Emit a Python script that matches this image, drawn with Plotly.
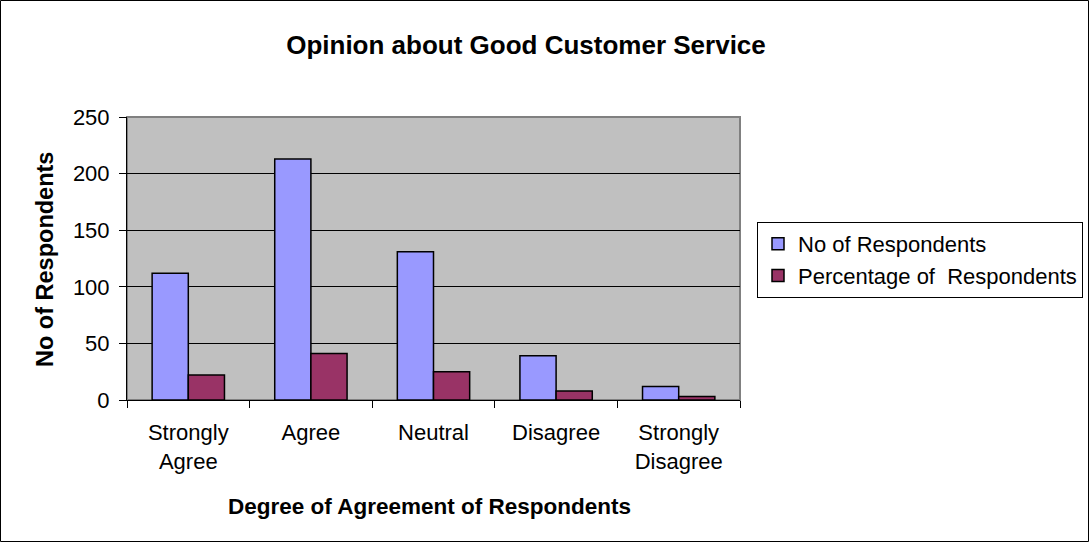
import plotly.graph_objects as go

categories = ["Strongly<br>Agree", "Agree", "Neutral", "Disagree", "Strongly<br>Disagree"]
no_of_respondents = [112, 213, 131, 39, 12]
pct_of_respondents = [22, 41, 25, 8, 3]
y_ticks = [0, 50, 100, 150, 200, 250]

W, H = 1089, 542
L, R, T, B = 127, 349, 117, 142
pw, ph = W - L - R, H - T - B

def px_x(x):
    return (x - L) / pw

def px_y(y):
    return (H - B - y) / ph

FONT = "Arial, Liberation Sans, sans-serif"

fig = go.Figure()
fig.add_trace(go.Bar(
    x=categories, y=no_of_respondents, name="No of Respondents",
    marker=dict(color="#9999FF", line=dict(color="black", width=1.5)),
))
fig.add_trace(go.Bar(
    x=categories, y=pct_of_respondents, name="Percentage of\u00a0 Respondents",
    marker=dict(color="#993366", line=dict(color="black", width=1.5)),
))

fig.update_layout(
    width=W, height=H,
    margin=dict(l=L, r=R, t=T, b=B, autoexpand=False),
    paper_bgcolor="white", plot_bgcolor="#C0C0C0",
    barmode="group", bargap=0.41, bargroupgap=0,
    font=dict(family=FONT, size=22, color="black"),
    title=dict(text="<b>Opinion about Good Customer Service</b>",
               font=dict(family=FONT, size=26, color="black"),
               x=526 / W, xref="container", xanchor="center",
               y=1 - 45 / H, yref="container", yanchor="middle"),
    legend=dict(x=px_x(757), y=px_y(222), xanchor="left", yanchor="top",
                bordercolor="black", borderwidth=1, bgcolor="white",
                font=dict(family=FONT, size=22, color="black"),
                itemwidth=30, tracegroupgap=0),
    showlegend=True,
)

fig.update_xaxes(
    showline=True, linecolor="black", linewidth=1,
    ticks="outside", tickson="boundaries", ticklen=7, tickcolor="black",
    showgrid=False, tickfont=dict(family=FONT, size=22), ticklabelstandoff=13,
)
fig.update_yaxes(
    range=[0, 250], tickvals=y_ticks, showgrid=True, gridcolor="black", gridwidth=1,
    showline=True, linecolor="black", linewidth=1,
    ticks="outside", ticklen=7, tickcolor="black",
    tickfont=dict(family=FONT, size=22), zeroline=False, ticklabelstandoff=5,
)

# plot-area border (top/right) and outer chart border
fig.add_shape(type="rect", xref="paper", yref="paper", x0=0, x1=1, y0=0, y1=1,
              line=dict(color="#808080", width=2), layer="below")
fig.add_shape(type="rect", xref="paper", yref="paper",
              x0=px_x(0.5), x1=px_x(W - 0.5), y0=px_y(H - 0.5), y1=px_y(0.5),
              line=dict(color="black", width=1))

fig.add_annotation(text="<b>No of Respondents</b>", xref="paper", yref="paper",
                   x=px_x(45), y=px_y(260), textangle=-90, showarrow=False,
                   font=dict(family=FONT, size=23.5, color="black"),
                   xanchor="center", yanchor="middle")
fig.add_annotation(text="<b>Degree of Agreement of Respondents</b>", xref="paper", yref="paper",
                   x=px_x(429), y=px_y(506), showarrow=False,
                   font=dict(family=FONT, size=22.5, color="black"),
                   xanchor="center", yanchor="middle")

fig.write_html("out.html", config={"displayModeBar": False},
               post_script="document.body.style.margin='0';document.body.style.padding='0';")
